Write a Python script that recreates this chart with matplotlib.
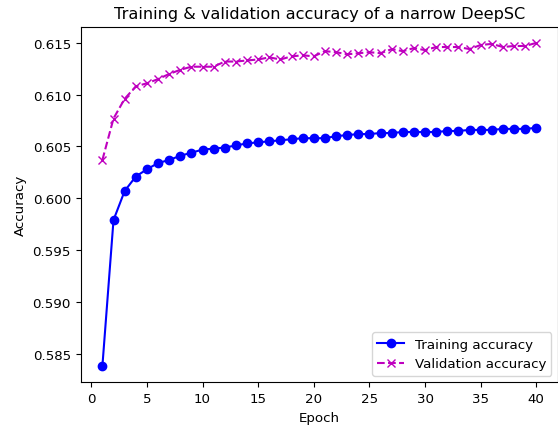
import matplotlib
matplotlib.use("Agg")
import matplotlib.pyplot as plt

# Per-epoch accuracy history for the narrow DeepSC model
epochs = list(range(1, 41))

train_acc = [
    0.5838, 0.5979, 0.6007, 0.6021, 0.6028, 0.6034, 0.6037, 0.6041, 0.6044, 0.6047,
    0.6048, 0.6049, 0.6051, 0.6053, 0.6054, 0.6055, 0.6056, 0.6057, 0.6058, 0.6058,
    0.6058, 0.6060, 0.6061, 0.6062, 0.6062, 0.6063, 0.6063, 0.6064, 0.6064, 0.6064,
    0.6064, 0.6065, 0.6065, 0.6066, 0.6066, 0.6066, 0.6067, 0.6067, 0.6067, 0.6068,
]

val_acc = [
    0.6037, 0.6077, 0.6096, 0.6108, 0.6111, 0.6115, 0.6120, 0.6124, 0.6127, 0.6127,
    0.6127, 0.6132, 0.6132, 0.6133, 0.6134, 0.6136, 0.6134, 0.6137, 0.6138, 0.6137,
    0.6142, 0.6141, 0.6139, 0.6140, 0.6141, 0.6140, 0.6144, 0.6142, 0.6145, 0.6143,
    0.6146, 0.6146, 0.6146, 0.6144, 0.6148, 0.6149, 0.6146, 0.6147, 0.6147, 0.6150,
]

plt.rcParams['font.size'] = 9.6

fig = plt.figure(figsize=(5.58, 4.27), dpi=100)
ax = fig.add_axes([0.1446, 0.1023, 0.8554, 0.8328])

ax.plot(epochs, train_acc, 'b-o', label='Training accuracy')
ax.plot(epochs, val_acc, 'm--x', label='Validation accuracy')

ax.set_title('Training & validation accuracy of a narrow DeepSC', fontsize=11.6)
ax.set_xlabel('Epoch')
ax.set_ylabel('Accuracy')
ax.legend(loc='lower right')

plt.savefig('out.png', dpi=100)
plt.close()
